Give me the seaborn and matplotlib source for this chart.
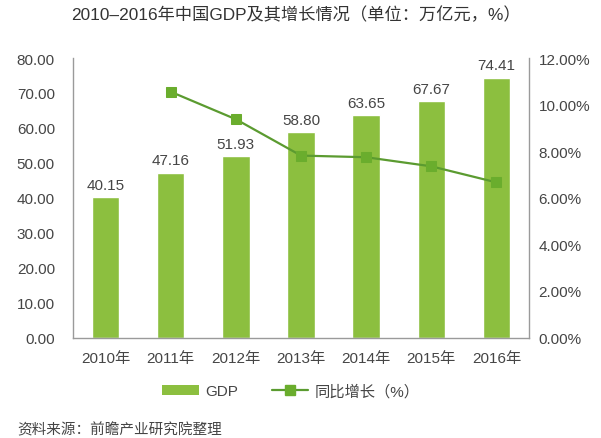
import matplotlib
matplotlib.use("Agg")
import matplotlib.pyplot as plt
import seaborn as sns
import pandas as pd
from matplotlib.ticker import FuncFormatter, MultipleLocator
from matplotlib.patches import Patch
from matplotlib.lines import Line2D

years = ["2010年", "2011年", "2012年", "2013年", "2014年", "2015年", "2016年"]
gdp = [40.15, 47.16, 51.93, 58.80, 63.65, 67.67, 74.41]
growth_years = ["2011年", "2012年", "2013年", "2014年", "2015年", "2016年"]
growth = [10.55, 9.37, 7.81, 7.74, 7.35, 6.66]

title = "2010–2016年中国GDP及其增长情况（单位：万亿元，%）"
legend_labels = ["GDP", "同比增长（%）"]
source = "资料来源：前瞻产业研究院整理"

sns.set_theme(style="white")
plt.rcParams["font.family"] = ["Liberation Sans", "Noto Sans CJK SC", "DejaVu Sans"]

bar_color = "#8cbf3f"
line_color = "#5b9b30"
marker_color = "#6aad2d"
text_color = "#454545"
spine_color = "#9a9a9a"

fig = plt.figure(figsize=(6.01, 4.39), dpi=100)
ax = fig.add_axes([0.1215, 0.2289, 0.8802 - 0.1215, 0.8656 - 0.2289])

df = pd.DataFrame({"year": years, "gdp": gdp})
sns.barplot(data=df, x="year", y="gdp", ax=ax, color=bar_color, width=0.42,
            saturation=1, order=years)
for c in ax.containers:
    ax.bar_label(c, labels=[f"{v:.2f}" for v in gdp], padding=4,
                 fontsize=11, color=text_color)

ax.set_ylim(0, 80)
ax.yaxis.set_major_locator(MultipleLocator(10))
ax.yaxis.set_major_formatter(FuncFormatter(lambda v, p: f"{v:.2f}"))
ax.set_xlabel("")
ax.set_ylabel("")

ax2 = ax.twinx()
pos = [years.index(y) for y in growth_years]
gdf = pd.DataFrame({"x": pos, "g": growth})
sns.lineplot(data=gdf, x="x", y="g", ax=ax2, color=line_color, linewidth=1.6,
             marker="s", markersize=7.5, markerfacecolor=marker_color,
             markeredgecolor=marker_color)
ax2.set_ylim(0, 12)
ax2.yaxis.set_major_locator(MultipleLocator(2))
ax2.yaxis.set_major_formatter(FuncFormatter(lambda v, p: f"{v:.2f}%"))
ax2.set_xlabel("")
ax2.set_ylabel("")
ax.set_xlim(-0.5, 6.5)

for a in (ax, ax2):
    for s in a.spines.values():
        s.set_color(spine_color)
        s.set_linewidth(1.0)
    a.spines["top"].set_visible(False)

ax.spines["right"].set_visible(False)
ax2.spines["left"].set_visible(False)
ax2.spines["bottom"].set_visible(False)

ax.tick_params(axis="y", length=0, pad=13, labelsize=11, labelcolor=text_color)
ax.tick_params(axis="x", length=0, pad=10, labelsize=11, labelcolor=text_color)
ax2.tick_params(axis="y", length=0, pad=7, labelsize=11, labelcolor=text_color)

fig.text(296 / 601, 1 - 15 / 439, title, ha="center", va="center",
         fontsize=12.4, color="#333333")

handles = [Patch(facecolor=bar_color, edgecolor="none"),
           Line2D([0], [0], color=line_color, linewidth=1.6, marker="s",
                  markersize=7.5, markerfacecolor=marker_color,
                  markeredgecolor=marker_color)]
fig.legend(handles, legend_labels, loc="center", ncol=2,
           bbox_to_anchor=(291 / 601, 1 - 392 / 439), frameon=False,
           fontsize=11, labelcolor=text_color, handlelength=2.4,
           handleheight=0.7, handletextpad=0.4, columnspacing=2.2)

fig.text(17 / 601, 1 - 430 / 439, source, ha="left", va="center",
         fontsize=10.5, color=text_color)

fig.savefig("out.png", dpi=100, facecolor="white")
